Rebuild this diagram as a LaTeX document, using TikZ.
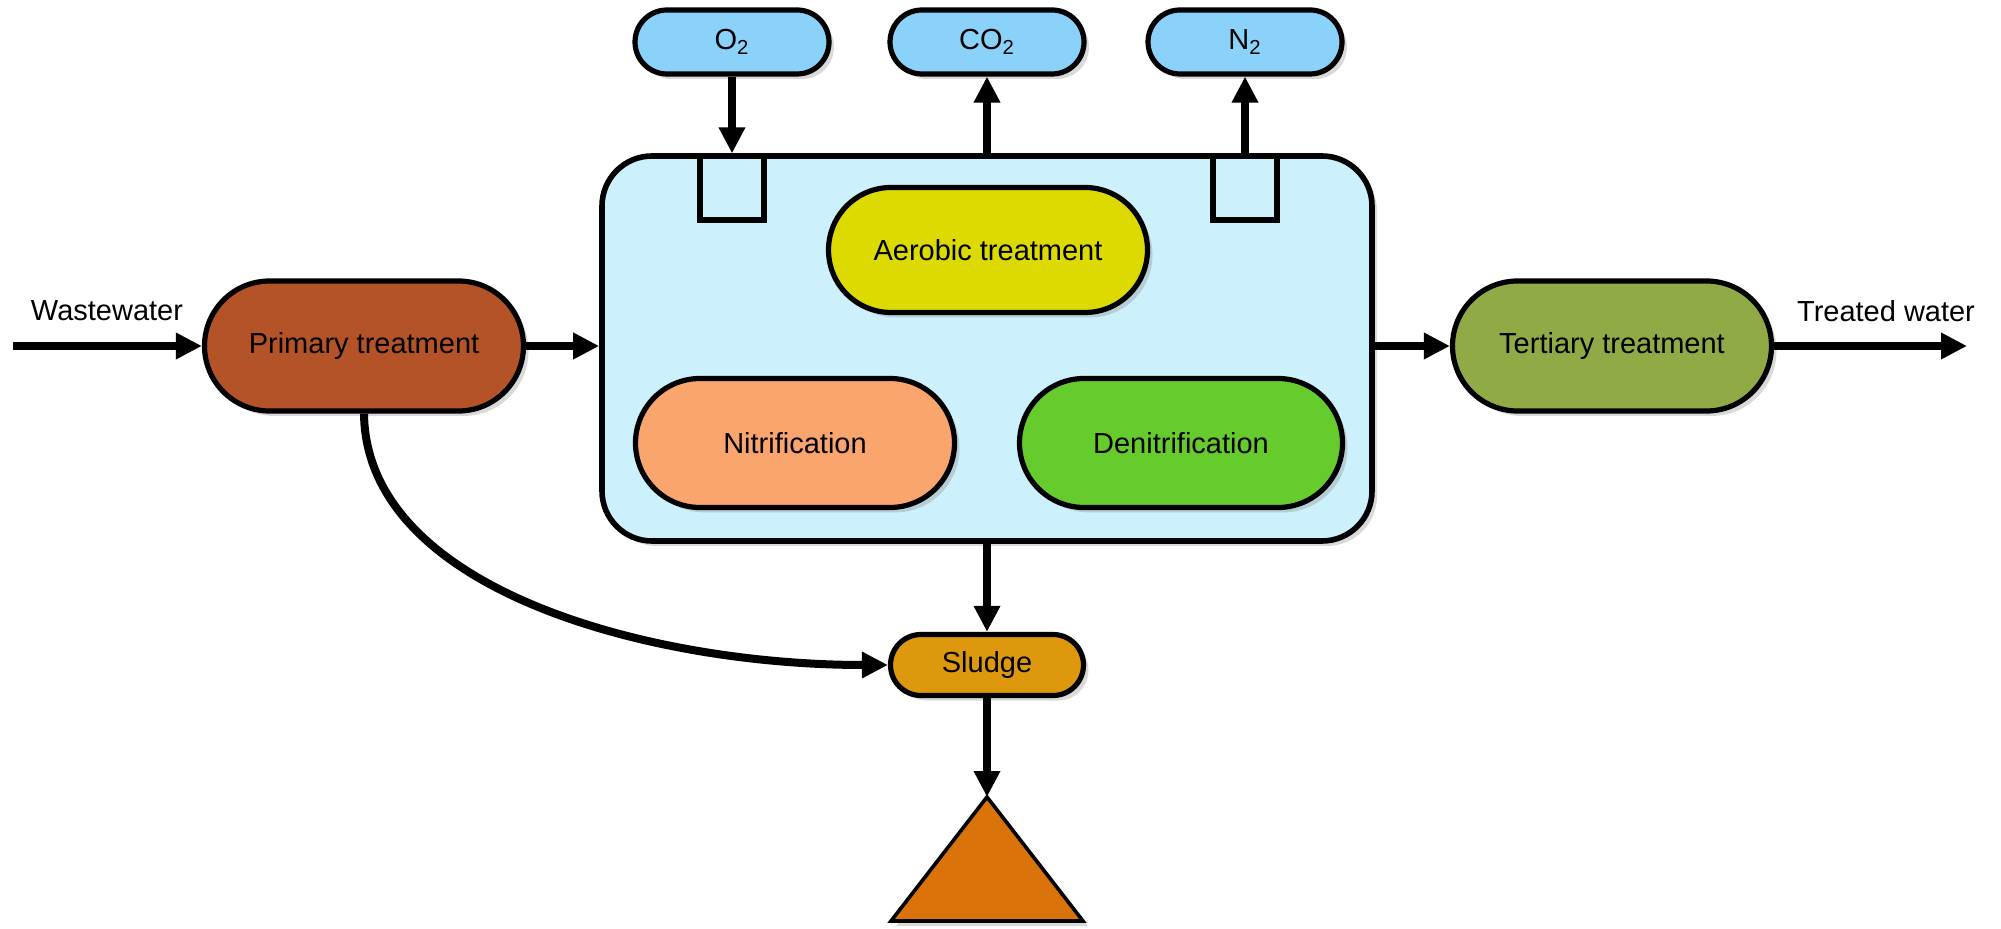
\documentclass[tikz,border=0pt]{standalone}
\usepackage{fontspec}
\setmainfont{Liberation Sans}
\usetikzlibrary{shapes.misc, shapes.geometric, shadows, arrows.meta}

\definecolor{gasblue}{RGB}{138,210,250}
\definecolor{tankblue}{RGB}{204,240,252}
\definecolor{aerobicyellow}{RGB}{220,218,0}
\definecolor{nitrorange}{RGB}{250,165,110}
\definecolor{denitgreen}{RGB}{102,204,45}
\definecolor{primbrown}{RGB}{180,83,40}
\definecolor{tertgreen}{RGB}{144,170,70}
\definecolor{sludgeamber}{RGB}{222,152,14}
\definecolor{pileorange}{RGB}{217,115,10}

\tikzset{
  softshadow/.style={drop shadow={shadow xshift=2.5pt, shadow yshift=-2.5pt, opacity=0.3}},
  pill/.style={rounded rectangle, draw=black, line width=2.6pt, inner sep=0pt,
    font=\fontsize{14.5}{17}\selectfont, softshadow},
  stage/.style={pill, minimum width=159.5pt, minimum height=65pt},
  gas/.style={pill, fill=gasblue, minimum width=97pt, minimum height=32pt},
  vent/.style={draw=black, line width=2.6pt, fill=tankblue, minimum size=32pt, inner sep=0pt},
  flow/.style={line width=4pt, -{Triangle[length=13pt, width=12.5pt]}},
  plain/.style={font=\fontsize{14.5}{17}\selectfont, inner sep=0pt},
}

\begin{document}
\begin{tikzpicture}[x=0.5pt, y=-0.5pt]
  \useasboundingbox (0,0) rectangle (2001,929);

  % reactor tank
  \node[draw=black, line width=2.8pt, fill=tankblue, rounded corners=25pt,
        minimum width=385pt, minimum height=192.5pt, softshadow] (tank) at (987,348.5) {};

  % vents on the tank roof
  \node[vent] (ventO) at (732,188) {};
  \node[vent] (ventN) at (1245,188) {};

  % gases
  \node[gas] (o2)  at (732,42)  {O\textsubscript{2}};
  \node[gas] (co2) at (987,42)  {CO\textsubscript{2}};
  \node[gas] (n2)  at (1245,42) {N\textsubscript{2}};

  % processes inside the tank
  \node[stage, fill=aerobicyellow, minimum height=62.5pt] (aer) at (988,250) {Aerobic treatment};
  \node[stage, fill=nitrorange, minimum height=64.5pt] (nit) at (795,443) {Nitrification};
  \node[stage, fill=denitgreen, minimum width=161.5pt, minimum height=64.5pt] (den) at (1181,443) {Denitrification};

  % treatment line
  \node[stage, fill=primbrown] (prim) at (364,346) {Primary treatment};
  \node[stage, fill=tertgreen] (tert) at (1612,346) {Tertiary treatment};
  \node[pill, fill=sludgeamber, minimum width=96.5pt, minimum height=30.5pt] (sludge) at (987,665) {Sludge};

  % sludge pile
  \coordinate (pile) at (987,797);
  \draw[line width=1.8pt, fill=pileorange, line join=miter, softshadow]
    (pile) -- (1083,921) -- (891,921) -- cycle;

  % labels and free ends
  \coordinate (inlet) at (13,346);
  \coordinate (outlet) at (1967,346);
  \node[plain] (wwlabel) at (107,311) {Wastewater};
  \node[plain] (twlabel) at (1886,311) {Treated water};

  % connectors
  \draw[flow] (inlet) -- (prim.west);
  \draw[flow] (prim.east) -- (prim.east -| tank.west);
  \draw[flow] (tert.west -| tank.east) -- (tert.west);
  \draw[flow] (tert.east) -- (outlet);
  \draw[flow] (o2.south) -- (ventO.north);
  \draw[flow] (tank.north) -- (co2.south);
  \draw[flow] (ventN.north) -- (n2.south);
  \draw[flow] (tank.south) -- (sludge.north);
  \draw[flow] (sludge.south) -- (pile);
  \draw[flow] (prim.south) .. controls (366,590) and (650,665) .. (sludge.west);
\end{tikzpicture}
\end{document}
